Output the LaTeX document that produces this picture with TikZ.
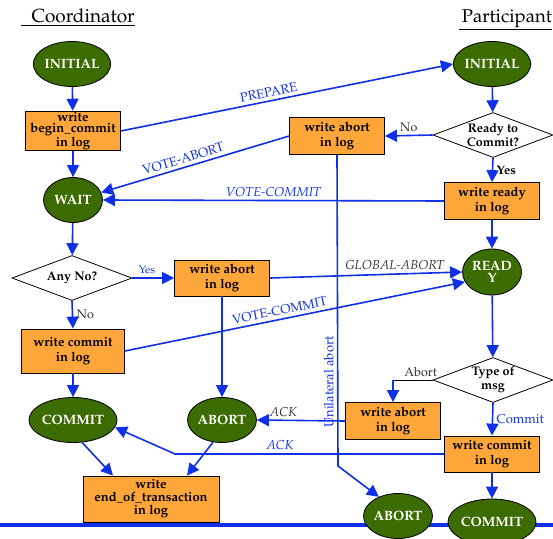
\documentclass[tikz,border=0pt]{standalone}
\usepackage[T1]{fontenc}
\usepackage{mathpazo}
\usetikzlibrary{shapes.geometric,arrows.meta,calc}

\definecolor{stategreen}{RGB}{60,108,0}
\definecolor{logorange}{RGB}{255,166,58}
\definecolor{msgblue}{RGB}{16,48,230}
\definecolor{labelgray}{RGB}{50,50,50}

\begin{document}
\begin{tikzpicture}[x=1pt,y=-1pt,
  state/.style={ellipse,draw=black,thick,fill=stategreen,text=white,
    font=\fontsize{13.5}{12}\selectfont\bfseries,align=center,
    minimum width=59pt,minimum height=45pt,inner sep=0pt},
  logbox/.style={rectangle,draw=black,thick,fill=logorange,
    font=\fontsize{13}{15}\selectfont\bfseries,align=center,
    minimum width=95pt,minimum height=37pt,inner sep=1pt},
  test/.style={diamond,draw=black,thick,fill=white,
    minimum width=120pt,minimum height=45pt,inner sep=0pt},
  testtext/.style={font=\fontsize{12.5}{14}\selectfont\bfseries,align=center},
  flow/.style={draw=msgblue,line width=1.6pt,-{Triangle[length=12pt,width=12pt]}},
  msg/.style={text=msgblue,font=\fontsize{13}{12}\selectfont},
  imsg/.style={text=msgblue,font=\fontsize{13}{12}\selectfont\itshape},
  gmsg/.style={text=labelgray,font=\fontsize{13}{12}\selectfont\itshape},
  note/.style={text=labelgray,font=\fontsize{12.5}{12}\selectfont}]

\useasboundingbox (0,0) rectangle (553,538);

%% titles
\node[anchor=base west,font=\fontsize{19}{19}\selectfont] (coordTitle) at (17,22)
  {\underline{\hspace{11pt}Coordinator}};
\node[anchor=base east,inner xsep=0pt,font=\fontsize{18.5}{19}\selectfont] (partTitle) at (552,22)
  {\underline{\hspace{3pt}Participant}};

%% bottom line
\draw[msgblue,line width=4.5pt] (0,525) -- (553,525);

%% coordinator
\node[state] (cInit) at (72,64) {INITIAL};
\node[logbox,font=\fontsize{13}{11.5}\selectfont\bfseries] (cBegin) at (73,131)
  {write\\begin\_commit\\in log};
\node[state] (cWait) at (73,200) {WAIT};
\node[test,label={[testtext]center:Any No?}] (cAny) at (72,278) {};
\node[logbox,minimum height=36pt] (cAbortLog) at (222,278) {write abort\\in log};
\node[logbox,minimum width=103pt,minimum height=44pt] (cCommitLog) at (73,351)
  {write commit\\in log};
\node[state] (cCommit) at (73,420) {COMMIT};
\node[state] (cAbort) at (222,420) {ABORT};
\node[logbox,minimum width=136pt,minimum height=46pt,
  font=\fontsize{13}{13}\selectfont\bfseries] (cEnd) at (151,499)
  {write\\end\_of\_transaction\\in log};

%% participant
\node[state] (pInit) at (492,64) {INITIAL};
\node[test,label={[testtext]center:Ready to\\Commit?}] (pReady) at (493,135) {};
\node[logbox] (pAbortLog) at (337,136) {write abort\\in log};
\node[logbox] (pReadyLog) at (492,201) {write ready\\in log};
\node[state,minimum height=46pt] (pReadyState) at (492,272) {READ\\Y};
\node[test,label={[testtext]center:Type of\\msg}] (pType) at (493,380) {};
\node[logbox] (pAbortLog2) at (393,421) {write abort\\in log};
\node[logbox,minimum height=36pt] (pCommitLog) at (492,454) {write commit\\in log};
\node[state] (pAbort) at (398,516) {ABORT};
\node[state,minimum height=46pt] (pCommit) at (492,522) {COMMIT};

\coordinate (ackBend) at (175,454);
\coordinate (uniBend) at (338,466);
\coordinate (abortBend) at (pType.west -| pAbortLog2.north);

%% coordinator flow
\draw[flow] (cInit) -- (cBegin);
\draw[flow] (cBegin) -- (cWait);
\draw[flow] (cWait) -- (cAny);
\draw[flow] (cAny.east) -- node[msg,above,pos=0.35,font=\fontsize{11}{10}\selectfont]{Yes} (cAbortLog.west);
\draw[flow] (cAny.south) -- node[note,right]{No} (cCommitLog.north);
\draw[flow] (cAbortLog) -- (cAbort);
\draw[flow] (cCommitLog) -- (cCommit);
\draw[flow] (cCommit.-68) -- ($(cEnd.north)+(-38,0)$);
\draw[flow] (cAbort.-112) -- ($(cEnd.north)+(36,0)$);

%% participant flow
\draw[flow] (pInit) -- (pReady);
\draw[flow] (pReady.west) -- node[note,above]{No} (pAbortLog.east);
\draw[flow] (pReady.south) -- node[right,font=\fontsize{12.5}{12}\selectfont\bfseries]{Yes} (pReadyLog.north);
\draw[flow] (pReadyLog) -- (pReadyState);
\draw[flow] (pReadyState) -- (pType);
\draw[black,thick] (pType.west) -- node[note,above,pos=0.3]{Abort} (abortBend);
\draw[flow] (abortBend) -- (pAbortLog2.north);
\draw[flow] (pType.south) -- node[msg,right]{Commit} (pCommitLog.north);
\draw[flow] (pCommitLog) -- (pCommit);
\draw[flow] (pAbortLog.south) -- node[msg,rotate=90,anchor=south,pos=0.73]{Unilateral abort}
  (uniBend) -- (pAbort.135);

%% messages
\draw[flow] (cBegin.east) -- node[msg,sloped,above,pos=0.45]{PREPARE} (pInit.west);
\draw[flow] (pAbortLog.west) -- node[msg,sloped,above,pos=0.55]{VOTE-ABORT} (cWait.15);
\draw[flow] (pReadyLog.west) -- node[imsg,above]{VOTE-COMMIT} (cWait.east);
\draw[flow] (cAbortLog.east) -- node[gmsg,above,pos=0.65]{GLOBAL-ABORT} (pReadyState.west);
\draw[flow] (cCommitLog.east) -- node[msg,sloped,above,pos=0.46]{VOTE-COMMIT} (pReadyState.200);
\draw[flow] (pAbortLog2.west) -- node[gmsg,above,pos=0.7]{ACK} (cAbort.east);
\draw[flow] (pCommitLog.west) -- node[imsg,above,pos=0.61]{ACK} (ackBend) -- (cCommit.-10);

\end{tikzpicture}
\end{document}
